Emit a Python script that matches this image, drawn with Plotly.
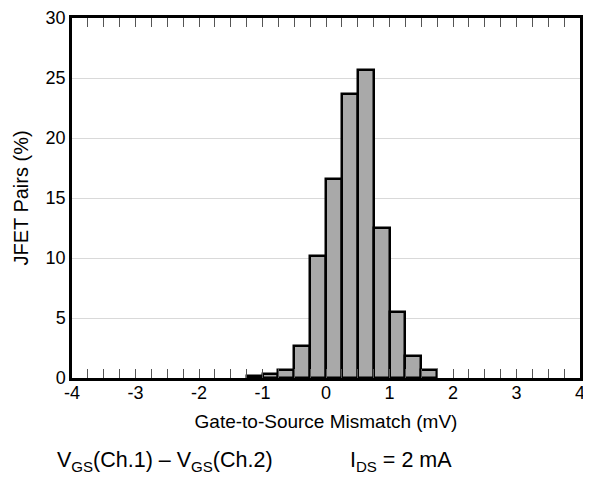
import plotly.graph_objects as go

bin_centers = [-1.125, -0.875, -0.625, -0.375, -0.125, 0.125, 0.375, 0.625, 0.875, 1.125, 1.375, 1.625]
pct_values = [0.15, 0.3, 0.7, 2.7, 10.2, 16.6, 23.7, 25.7, 12.5, 5.5, 1.8, 0.65]
x_ticks = [-4, -3, -2, -1, 0, 1, 2, 3, 4]
y_ticks = [0, 5, 10, 15, 20, 25, 30]

FONT = "Liberation Sans, Arial, sans-serif"

fig = go.Figure()
fig.add_trace(go.Bar(
    x=bin_centers, y=pct_values, width=0.25,
    marker=dict(color="#a9a9a9", line=dict(color="black", width=2.5)),
    showlegend=False,
))

fig.update_layout(
    width=583, height=471,
    margin=dict(l=64, r=11, t=10, b=101, autoexpand=False),
    paper_bgcolor="white", plot_bgcolor="white",
    font=dict(family=FONT, size=18, color="black"),
    bargap=0,
    xaxis=dict(
        range=[-4, 4], tickvals=x_ticks, ticktext=[str(v) for v in x_ticks],
        ticks="inside", ticklen=9, tickcolor="#555", tickwidth=1,
        minor=dict(dtick=0.25, tick0=0, ticks="inside", ticklen=9, tickcolor="#555", tickwidth=1, showgrid=False),
        showline=True, linecolor="black", linewidth=2.5, mirror="allticks",
        showgrid=False, zeroline=False, automargin=False,
        ticklabelstandoff=-3,
        title=dict(text="Gate-to-Source Mismatch (mV)", font=dict(size=19), standoff=13),
        tickfont=dict(size=18),
    ),
    yaxis=dict(
        range=[0, 30], tickvals=y_ticks, ticks="",
        showline=True, linecolor="black", linewidth=2.5, mirror=True,
        showgrid=True, gridcolor="#d9d9d9", gridwidth=1, zeroline=False, automargin=False,
        title=dict(text="JFET Pairs (%)", font=dict(size=20), standoff=12),
        tickfont=dict(size=18),
    ),
)

fig.add_annotation(
    text="V<sub>GS</sub>(Ch.1) – V<sub>GS</sub>(Ch.2)",
    xref="paper", yref="paper", x=-0.0335, y=-0.232,
    xanchor="left", yanchor="middle", showarrow=False,
    font=dict(size=21.5, family=FONT),
)
fig.add_annotation(
    text="I<sub>DS</sub> = 2 mA",
    xref="paper", yref="paper", x=0.543, y=-0.232,
    xanchor="left", yanchor="middle", showarrow=False,
    font=dict(size=21.5, family=FONT),
)

fig.write_html("out.html")
